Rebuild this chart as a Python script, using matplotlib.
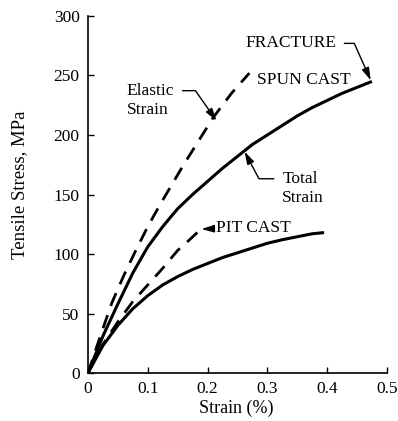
import matplotlib
matplotlib.use("Agg")
import matplotlib.pyplot as plt

plt.rcParams['font.family'] = ['Liberation Serif', 'DejaVu Serif']

# Spun cast: total strain (solid) and elastic strain (dashed)
spun_total_x = [0, 0.025, 0.05, 0.075, 0.1, 0.125, 0.15, 0.175, 0.2, 0.225, 0.25,
                0.275, 0.3, 0.325, 0.35, 0.375, 0.4, 0.425, 0.45, 0.475]
spun_total_y = [0, 31, 58, 84, 106, 123, 138, 150, 161, 172, 182,
                192, 200, 208, 216, 223, 229, 235, 240, 245]
spun_elastic_x = [0, 0.02, 0.04, 0.06, 0.08, 0.1, 0.12, 0.14, 0.16, 0.185, 0.21, 0.24, 0.27]
spun_elastic_y = [0, 30, 59, 82, 103, 123, 141, 158, 175, 195, 215, 235, 252]

# Pit cast: total strain (solid) and elastic strain (dashed)
pit_total_x = [0, 0.025, 0.05, 0.075, 0.1, 0.125, 0.15, 0.175, 0.2, 0.225, 0.25,
               0.275, 0.3, 0.325, 0.35, 0.375, 0.395]
pit_total_y = [0, 23, 40, 54, 65, 74, 81, 87, 92, 97, 101,
               105, 109, 112, 114.5, 117, 118]
pit_elastic_x = [0, 0.025, 0.05, 0.075, 0.1, 0.125, 0.15, 0.17, 0.187]
pit_elastic_y = [0, 24, 43, 60, 74, 88, 103, 112, 120]

x_ticks = [0, 0.1, 0.2, 0.3, 0.4, 0.5]
x_tick_labels = ['0', '0.1', '0.2', '0.3', '0.4', '0.5']
y_ticks = [0, 50, 100, 150, 200, 250, 300]

fig = plt.figure(figsize=(3.98, 4.21), dpi=100)
ax = fig.add_axes([0.221, 0.114, 0.751, 0.848])

ax.plot(spun_total_x, spun_total_y, color='black', lw=2.2, solid_capstyle='butt')
ax.plot(spun_elastic_x, spun_elastic_y, color='black', lw=2.0, dashes=(5, 3.5))
ax.plot(pit_total_x, pit_total_y, color='black', lw=2.2, solid_capstyle='butt')
ax.plot(pit_elastic_x, pit_elastic_y, color='black', lw=2.0, dashes=(5, 3.5))

ax.set_xlim(0, 0.5)
ax.set_ylim(0, 300)
ax.set_xticks(x_ticks)
ax.set_xticklabels(x_tick_labels)
ax.set_yticks(y_ticks)
ax.tick_params(direction='in', length=4, width=1, labelsize=12.5, pad=6)
for side in ['top', 'right']:
    ax.spines[side].set_visible(False)
for side in ['left', 'bottom']:
    ax.spines[side].set_linewidth(1.2)

ax.set_xlabel('Strain (%)', fontsize=13)
ax.set_ylabel('Tensile Stress, MPa', fontsize=13.5)
ax.xaxis.set_label_coords(0.495, -0.075)
ax.yaxis.set_label_coords(-0.2, 0.527)

arrow = dict(arrowstyle='-|>,head_length=0.6,head_width=0.18', color='black',
             lw=1.0, shrinkA=4, shrinkB=0)

ax.annotate('FRACTURE', xy=(0.473, 246), xytext=(0.415, 277),
            ha='right', va='center', fontsize=12.5,
            arrowprops=dict(arrow, connectionstyle='angle,angleA=0,angleB=114,rad=0'))
ax.annotate('Elastic\nStrain', xy=(0.215, 212), xytext=(0.065, 229),
            ha='left', va='center', fontsize=12.5, linespacing=1.25,
            arrowprops=dict(arrow, relpos=(1, 0.78),
                            connectionstyle='angle,angleA=0,angleB=125,rad=0'))
ax.annotate('Total\nStrain', xy=(0.262, 186), xytext=(0.325, 155),
            ha='left', va='center', fontsize=12.5, linespacing=1.25,
            arrowprops=dict(arrow, relpos=(0, 0.78),
                            connectionstyle='angle,angleA=180,angleB=-62,rad=0'))
ax.annotate('PIT CAST', xy=(0.19, 121), xytext=(0.215, 122),
            ha='left', va='center', fontsize=12.5,
            arrowprops=dict(arrow, shrinkA=2))
ax.text(0.282, 246, 'SPUN CAST', ha='left', va='center', fontsize=12.5)

fig.savefig('out.png', dpi=100)
